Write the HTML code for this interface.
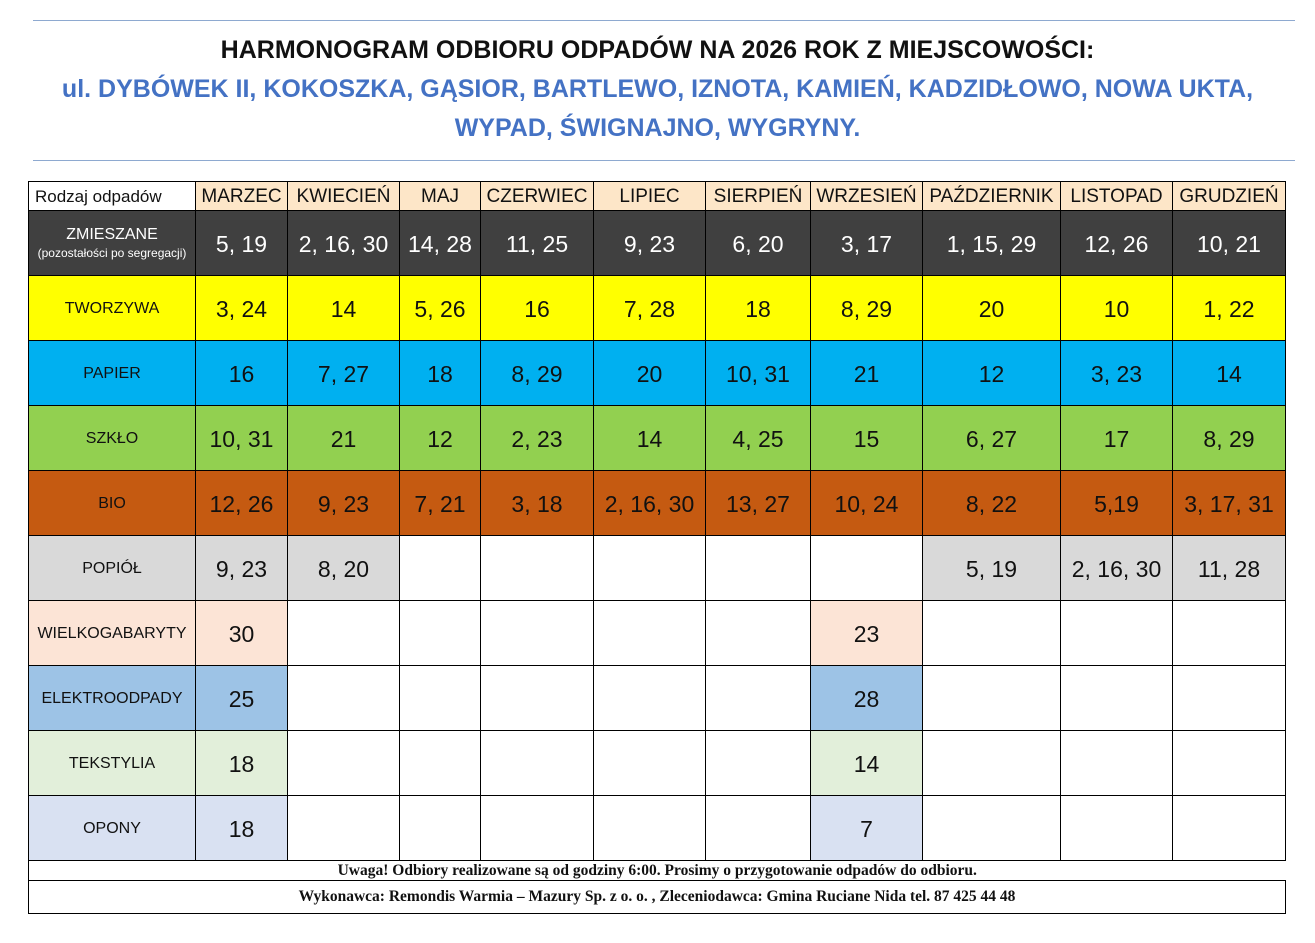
<!DOCTYPE html>
<html><head><meta charset="utf-8"><style>
body{margin:0;width:1315px;height:943px;background:#fff;position:relative;font-family:"Liberation Sans","DejaVu Sans",sans-serif;overflow:hidden}
.hr{position:absolute;left:33px;width:1262px;height:1px;background:#8ea9d0}
.t{position:absolute;left:0;width:1315px;text-align:center;font-weight:bold;font-size:25px;white-space:nowrap}
table{position:absolute;left:28px;top:181px;border-collapse:collapse;table-layout:fixed;width:1258px}
td{border:1px solid #000;text-align:center;padding:0;font-size:23px;color:#111;white-space:nowrap;overflow:hidden;padding-top:2px}
td.l{font-size:16px}
tr.h td{font-size:19px;background:#fde6c8;height:26px}
tr.r td{height:62px}
.D td{background:#404040;color:#fff}.Y td{background:#ffff00}.B td{background:#00b0f0}.G td{background:#92d050}.O td{background:#c55a11}
.g{background:#d9d9d9}.p{background:#fce4d6}.e{background:#9dc3e6}.x{background:#e2efda}.o{background:#d9e1f2}
.f td{font-family:"Liberation Serif",serif;font-weight:bold;font-size:15.5px;padding-top:0}
</style></head><body>
<div class="hr" style="top:20px"></div>
<div class="t" style="top:36px;color:#111">HARMONOGRAM ODBIORU ODPADÓW NA 2026 ROK Z MIEJSCOWOŚCI:</div>
<div class="t" style="top:75px;color:#4472c4">ul. DYBÓWEK II, KOKOSZKA, GĄSIOR, BARTLEWO, IZNOTA, KAMIEŃ, KADZIDŁOWO, NOWA UKTA,</div>
<div class="t" style="top:114px;color:#4472c4">WYPAD, ŚWIGNAJNO, WYGRYNY.</div>
<div class="hr" style="top:160px"></div>
<table>
<colgroup><col style="width:167px"><col style="width:92px"><col style="width:112px"><col style="width:81px"><col style="width:113px"><col style="width:112px"><col style="width:105px"><col style="width:112px"><col style="width:138px"><col style="width:112px"><col style="width:113px"></colgroup>
<tr class="h"><td style="background:#fff;font-size:17px;text-align:left;padding-left:6px">Rodzaj odpadów</td><td>MARZEC</td><td>KWIECIEŃ</td><td>MAJ</td><td>CZERWIEC</td><td>LIPIEC</td><td>SIERPIEŃ</td><td>WRZESIEŃ</td><td>PAŹDZIERNIK</td><td>LISTOPAD</td><td>GRUDZIEŃ</td></tr>
<tr class="r D"><td class="l" style="line-height:18px">ZMIESZANE<br><span style="font-size:12px">(pozostałości po segregacji)</span></td><td>5, 19</td><td>2, 16, 30</td><td>14, 28</td><td>11, 25</td><td>9, 23</td><td>6, 20</td><td>3, 17</td><td>1, 15, 29</td><td>12, 26</td><td>10, 21</td></tr>
<tr class="r Y"><td class="l">TWORZYWA</td><td>3, 24</td><td>14</td><td>5, 26</td><td>16</td><td>7, 28</td><td>18</td><td>8, 29</td><td>20</td><td>10</td><td>1, 22</td></tr>
<tr class="r B"><td class="l">PAPIER</td><td>16</td><td>7, 27</td><td>18</td><td>8, 29</td><td>20</td><td>10, 31</td><td>21</td><td>12</td><td>3, 23</td><td>14</td></tr>
<tr class="r G"><td class="l">SZKŁO</td><td>10, 31</td><td>21</td><td>12</td><td>2, 23</td><td>14</td><td>4, 25</td><td>15</td><td>6, 27</td><td>17</td><td>8, 29</td></tr>
<tr class="r O"><td class="l">BIO</td><td>12, 26</td><td>9, 23</td><td>7, 21</td><td>3, 18</td><td>2, 16, 30</td><td>13, 27</td><td>10, 24</td><td>8, 22</td><td>5,19</td><td>3, 17, 31</td></tr>
<tr class="r"><td class="l g">POPIÓŁ</td><td class="g">9, 23</td><td class="g">8, 20</td><td></td><td></td><td></td><td></td><td></td><td class="g">5, 19</td><td class="g">2, 16, 30</td><td class="g">11, 28</td></tr>
<tr class="r"><td class="l p">WIELKOGABARYTY</td><td class="p">30</td><td></td><td></td><td></td><td></td><td></td><td class="p">23</td><td></td><td></td><td></td></tr>
<tr class="r"><td class="l e">ELEKTROODPADY</td><td class="e">25</td><td></td><td></td><td></td><td></td><td></td><td class="e">28</td><td></td><td></td><td></td></tr>
<tr class="r"><td class="l x">TEKSTYLIA</td><td class="x">18</td><td></td><td></td><td></td><td></td><td></td><td class="x">14</td><td></td><td></td><td></td></tr>
<tr class="r"><td class="l o">OPONY</td><td class="o">18</td><td></td><td></td><td></td><td></td><td></td><td class="o">7</td><td></td><td></td><td></td></tr>
<tr class="f"><td colspan="11" style="height:19px;border-right:none;line-height:18px">Uwaga! Odbiory realizowane są od godziny 6:00. Prosimy o przygotowanie odpadów do odbioru.</td></tr>
<tr class="f"><td colspan="11" style="height:32px">Wykonawca: Remondis Warmia – Mazury Sp. z o. o. , Zleceniodawca: Gmina Ruciane Nida tel. 87 425 44 48</td></tr>
</table>
</body></html>
